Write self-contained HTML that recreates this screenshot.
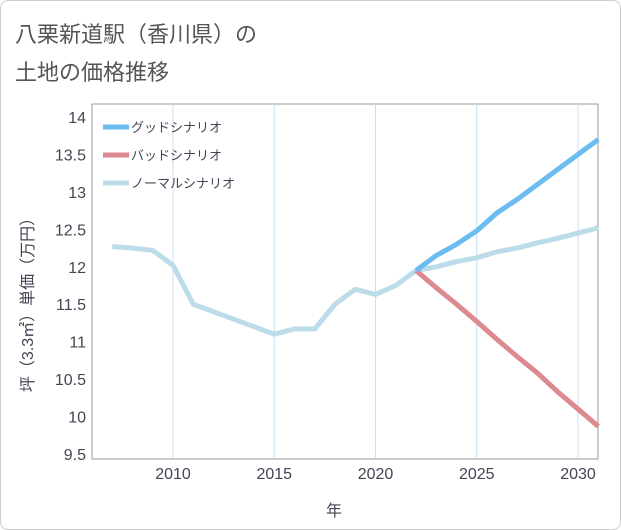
<!DOCTYPE html>
<html><head><meta charset="utf-8">
<style>
body{margin:0;background:#fff;}
#wrap{position:relative;width:619px;height:528px;border:1px solid #ccc;border-radius:8px;background:#fff;overflow:hidden;}
.title{position:absolute;left:14px;font:22px "Liberation Sans","Noto Sans CJK JP",sans-serif;color:#555;}
svg text{font-family:"Liberation Sans","Noto Sans CJK JP",sans-serif;}
</style></head><body>
<div id="wrap">
<div class="title" style="top:16px">八栗新道駅（香川県）の</div>
<div class="title" style="top:54px">土地の価格推移</div>
<svg id="chart" width="621" height="530" style="position:absolute;left:0;top:0"></svg>
</div>
<script>
const years=[2007,2008,2009,2010,2011,2012,2013,2014,2015,2016,2017,2018,2019,2020,2021,2022,2023,2024,2025,2026,2027,2028,2029,2030,2031];
const normalValues=[12.27,12.25,12.22,12.02,11.5,11.4,11.3,11.2,11.1,11.17,11.17,11.5,11.7,11.63,11.75,11.95,12.0,12.07,12.12,12.2,12.25,12.32,12.38,12.45,12.52];
const goodYears=[2022,2023,2024,2025,2026,2027,2028,2029,2030,2031];
const goodValues=[11.95,12.15,12.3,12.48,12.72,12.9,13.1,13.3,13.5,13.7];
const badValues=[11.95,11.72,11.5,11.27,11.03,10.8,10.58,10.33,10.1,9.87];
const xTicks=[2010,2015,2020,2025,2030];
const yTicks=[9.5,10,10.5,11,11.5,12,12.5,13,13.5,14];
const legendLabels=["グッドシナリオ","バッドシナリオ","ノーマルシナリオ"];
const colors=["#6bbcf0","#dc8a90","#bcdcea"];

const L=91,R=597,T=103,B=458;
const X=y=>172+(y-2010)*(577-172)/20;
const Y=v=>453-(v-9.5)*(453-116)/4.5;
const svg=document.getElementById('chart');
const NS='http://www.w3.org/2000/svg';
function mk(tag,attrs,txt){const e=document.createElementNS(NS,tag);for(const k in attrs)e.setAttribute(k,attrs[k]);if(txt!==undefined)e.textContent=txt;svg.appendChild(e);return e;}

let e=mk('rect',{x:L,y:T,width:R-L,height:B-T,fill:'#fff',stroke:'#999','stroke-width':1});


xTicks.forEach(t=>{
  let g=mk('line',{x1:X(t),x2:X(t),y1:T,y2:B,stroke:'#c8dff0'});
  
  
  let l=mk('text',{x:X(t),y:478,'text-anchor':'middle','font-size':16,fill:'#445'},t);
  
  
});
yTicks.forEach(t=>{
  let l=mk('text',{x:85,y:Y(t)+6,'text-anchor':'end','font-size':16,fill:'#445'},t);
  
  
});
let xt=mk('text',{x:333,y:515,'text-anchor':'middle','font-size':16,fill:'#445'},'年');


let yt=mk('text',{x:0,y:0,'text-anchor':'middle','font-size':16,fill:'#445',transform:'translate(32,300) rotate(-90)'},'坪（3.3㎡）単価（万円）');



function line(xs,vs,c,name){
  const p=mk('polyline',{points:xs.map((y,i)=>X(y)+','+Y(vs[i])).join(' '),fill:'none',stroke:c,'stroke-width':5,'stroke-linejoin':'round'});
  
  
}
line(years,normalValues,colors[2],'normal-scenario-line');
line(goodYears,badValues,colors[1],'bad-scenario-line');
line(goodYears,goodValues,colors[0],'good-scenario-line');

legendLabels.forEach((s,i)=>{
  const y=126+i*28;
  let m=mk('line',{x1:102,x2:128,y1:y,y2:y,stroke:colors[i],'stroke-width':5});
  
  
  let t=mk('text',{x:130,y:y+5,'font-size':13,fill:'#445'},s);
  
  
});
</script>
</body></html>
